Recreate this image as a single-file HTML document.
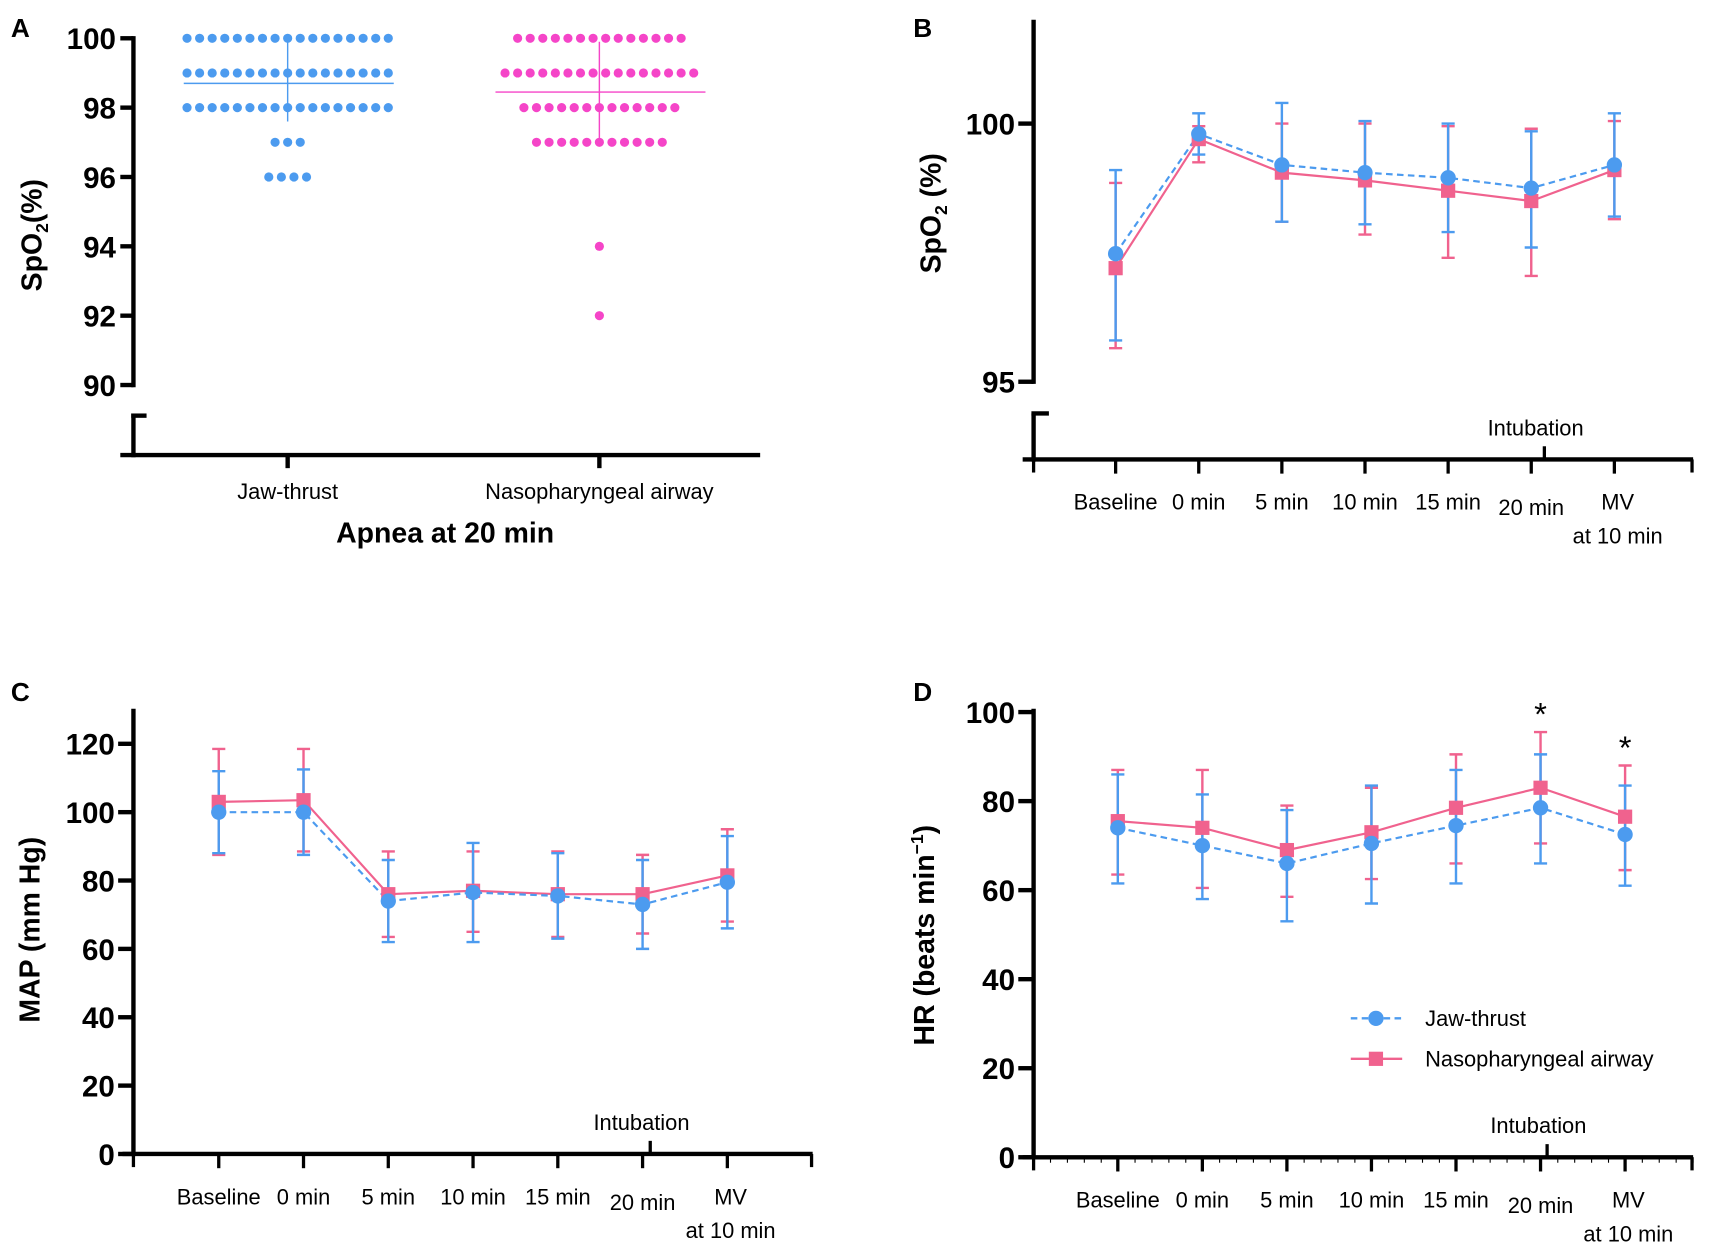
<!DOCTYPE html>
<html><head><meta charset="utf-8">
<style>
html,body{margin:0;padding:0;background:#fff;}
svg{display:block;}
text{font-family:"Liberation Sans Narrow","Liberation Sans",sans-serif;}
.num{font-weight:bold;font-size:27px;}
.cat{font-size:20px;}
.ttl{font-family:"Liberation Sans",sans-serif;font-weight:bold;font-size:26px;}
.pl{font-family:"Liberation Sans",sans-serif;font-weight:bold;font-size:24px;}
</style></head>
<body>
<svg id="fig" width="1715" height="1244" viewBox="0 0 1568 1137.3" preserveAspectRatio="none" xmlns="http://www.w3.org/2000/svg">
<text class="pl" x="10" y="34">A</text>
<text class="pl" x="835" y="34">B</text>
<text class="pl" x="10" y="641">C</text>
<text class="pl" x="835" y="641">D</text>
<g id="pa"></g>
<g id="pb"></g>
<g id="pc"></g>
<g id="pd"></g>
</svg>
<script>
// ---- Panel A data (dot plot) ----
const aGroups = ["Jaw-thrust", "Nasopharyngeal airway"];
const aValuesJaw = [100,100,100,100,100,100,100,100,100,100,100,100,100,100,100,100,100,
 99,99,99,99,99,99,99,99,99,99,99,99,99,99,99,99,99,
 98,98,98,98,98,98,98,98,98,98,98,98,98,98,98,98,98, 97,97,97, 96,96,96,96];
const aValuesNaso = [100,100,100,100,100,100,100,100,100,100,100,100,100,100,
 99,99,99,99,99,99,99,99,99,99,99,99,99,99,99,99,
 98,98,98,98,98,98,98,98,98,98,98,98,98, 97,97,97,97,97,97,97,97,97,97,97, 94, 92];
const aMean = [98.7, 98.45];
const aSDhi = [99.9, 99.9];
const aSDlo = [97.6, 97.05];
const aTicks = [90,92,94,96,98,100];

// ---- Line panels shared ----
const timeLabels = ["Baseline","0 min","5 min","10 min","15 min","20 min","MV"];

// Panel B SpO2
const bJaw = [97.48, 99.8, 99.2, 99.05, 98.95, 98.75, 99.2];
const bJawHi = [99.1, 100.2, 100.4, 100.05, 100.0, 99.85, 100.2];
const bJawLo = [95.8, 99.4, 98.1, 98.05, 97.9, 97.6, 98.2];
const bNaso = [97.2, 99.7, 99.05, 98.9, 98.7, 98.5, 99.1];
const bNasoHi = [98.85, 99.95, 100.0, 100.0, 99.95, 99.9, 100.05];
const bNasoLo = [95.65, 99.25, 98.1, 97.85, 97.4, 97.05, 98.15];
const bTicks = [95, 100];

// Panel C MAP
const cJaw = [100, 100, 74, 76.5, 75.5, 73, 79.5];
const cJawHi = [112, 112.5, 86, 91, 88, 86, 93];
const cJawLo = [88, 87.5, 62, 62, 63, 60, 66];
const cNaso = [103, 103.5, 76, 77, 76, 76, 81.5];
const cNasoHi = [118.5, 118.5, 88.5, 88.5, 88.5, 87.5, 95];
const cNasoLo = [87.5, 88.5, 63.5, 65, 63.5, 64.5, 68];
const cTicks = [0,20,40,60,80,100,120];

// Panel D HR
const dJaw = [74, 70, 66, 70.5, 74.5, 78.5, 72.5];
const dJawHi = [86, 81.5, 78, 83.5, 87, 90.5, 83.5];
const dJawLo = [61.5, 58, 53, 57, 61.5, 66, 61];
const dNaso = [75.5, 74, 69, 73, 78.5, 83, 76.5];
const dNasoHi = [87, 87, 79, 83, 90.5, 95.5, 88];
const dNasoLo = [63.5, 60.5, 58.5, 62.5, 66, 70.5, 64.5];
const dTicks = [0,20,40,60,80,100];
const dStars = [5, 6];

const NS = "http://www.w3.org/2000/svg";
const BLUE = "#4c9bef", PINK = "#f0628e", MAG = "#f545c8";
function mk(parent, tag, attrs, txt){
  const e = document.createElementNS(NS, tag);
  for (const k in attrs) e.setAttribute(k, attrs[k]);
  if (txt !== undefined) e.textContent = txt;
  parent.appendChild(e); return e;
}
function lin(d0,d1,r0,r1){ return v => r0 + (v-d0)/(d1-d0)*(r1-r0); }

// ---------- Panel A ----------
(function(){
  const g = document.getElementById('pa');
  const ax = 122, y = lin(90,100,352,35);
  const xc = [263, 548];
  let e = mk(g,'line',{x1:ax,y1:y(100)-2,x2:ax,y2:354,stroke:'#000','stroke-width':4});
   
  e = mk(g,'line',{x1:ax,y1:378,x2:ax,y2:418,stroke:'#000','stroke-width':4});
   
  mk(g,'line',{x1:ax-2,y1:380,x2:ax+12,y2:380,stroke:'#000','stroke-width':4});
  e = mk(g,'line',{x1:110,y1:416,x2:695,y2:416,stroke:'#000','stroke-width':4});
   
  aTicks.forEach(t=>{
    mk(g,'line',{x1:ax-12,y1:y(t),x2:ax,y2:y(t),stroke:'#000','stroke-width':4});
    const tx = mk(g,'text',{x:ax-16,y:y(t)+10,'text-anchor':'end',class:'num'},String(t));
     
  });
  aGroups.forEach((nm,i)=>{
    mk(g,'line',{x1:xc[i],y1:416,x2:xc[i],y2:428,stroke:'#000','stroke-width':4});
    const tx = mk(g,'text',{x:xc[i],y:456,'text-anchor':'middle',class:'cat'},nm);
     
  });
  const tt = mk(g,'text',{x:407,y:496,'text-anchor':'middle',class:'ttl'},'Apnea at 20 min');
   
  const yt = mk(g,'text',{transform:'translate(38,215) rotate(-90)','text-anchor':'middle',class:'ttl'});
   
  yt.innerHTML = 'SpO<tspan font-size="16" dy="6">2</tspan><tspan dy="-6">(%)</tspan>';
  [aValuesJaw, aValuesNaso].forEach((vals,gi)=>{
    const col = gi===0?BLUE:MAG;
    const counts = {};
    vals.forEach(v=>counts[v]=(counts[v]||0)+1);
    const idx = {};
    vals.forEach(v=>{
      const n = counts[v]; idx[v]=(idx[v]||0);
      const sp = 11.5;
      const cx = xc[gi] + (idx[v] - (n-1)/2)*sp;
      idx[v]++;
      const c = mk(g,'circle',{cx:cx,cy:y(v),r:4.2,fill:col});
       
    });
    const m = mk(g,'line',{x1:xc[gi]-95,y1:y(aMean[gi]),x2:xc[gi]+97,y2:y(aMean[gi]),stroke:col,'stroke-width':1.3});
     
    const s = mk(g,'line',{x1:xc[gi],y1:y(aSDhi[gi]),x2:xc[gi],y2:y(aSDlo[gi]),stroke:col,'stroke-width':1.3});
     
  });
})();

// ---------- Line panels ----------
function linePanel(cfg){
  const g = document.getElementById(cfg.id);
  const ax = cfg.ax, y = lin(cfg.d0,cfg.d1,cfg.r0,cfg.r1);
  const xs = i => cfg.x0 + i*cfg.dx;
  let e = mk(g,'line',{x1:ax,y1:cfg.top,x2:ax,y2:cfg.axisBottom,stroke:'#000','stroke-width':4});
   
  if (cfg.brk){
    mk(g,'line',{x1:ax,y1:cfg.brk,x2:ax,y2:cfg.xaxY+2,stroke:'#000','stroke-width':4});
    mk(g,'line',{x1:ax-2,y1:cfg.brk,x2:ax+14,y2:cfg.brk,stroke:'#000','stroke-width':4});
  }
  e = mk(g,'line',{x1:ax-10,y1:cfg.xaxY,x2:cfg.xEnd,y2:cfg.xaxY,stroke:'#000','stroke-width':4});
   
  mk(g,'line',{x1:ax,y1:cfg.xaxY,x2:ax,y2:cfg.xaxY+12,stroke:'#000','stroke-width':3});
  mk(g,'line',{x1:cfg.xEnd-1,y1:cfg.xaxY,x2:cfg.xEnd-1,y2:cfg.xaxY+12,stroke:'#000','stroke-width':3});
  if (cfg.minor){
    for (let xx=ax; xx<cfg.xEnd; xx+=cfg.dx/5) mk(g,'line',{x1:xx,y1:cfg.xaxY,x2:xx,y2:cfg.xaxY+5,stroke:'#000','stroke-width':1});
  }
  cfg.ticks.forEach(t=>{
    mk(g,'line',{x1:ax-14,y1:y(t),x2:ax,y2:y(t),stroke:'#000','stroke-width':4});
    const tx = mk(g,'text',{x:ax-17,y:y(t)+10,'text-anchor':'end',class:'num'},String(t));
     
  });
  timeLabels.forEach((lb,i)=>{
    mk(g,'line',{x1:xs(i),y1:cfg.xaxY,x2:xs(i),y2:cfg.xaxY+13,stroke:'#000','stroke-width':3});
    const ly = cfg.xaxY + (i===5?51:46);
    const tx = mk(g,'text',{x:xs(i)+(i===6?3:0),y:ly,'text-anchor':'middle',class:'cat'},lb);
     
  });
  const at = mk(g,'text',{x:xs(6)+3,y:cfg.xaxY+77,'text-anchor':'middle',class:'cat'},'at 10 min');
   
  const ix = xs(5)+cfg.intOff;
  mk(g,'line',{x1:ix,y1:cfg.xaxY-12,x2:ix,y2:cfg.xaxY,stroke:'#000','stroke-width':3});
  const it = mk(g,'text',{x:ix-8,y:cfg.xaxY-22,'text-anchor':'middle',class:'cat'},'Intubation');
   
  const yt = mk(g,'text',{transform:`translate(${cfg.ytX},${cfg.ytY}) rotate(-90)`,'text-anchor':'middle',class:'ttl'});
   
  yt.innerHTML = cfg.ytitle;
  const series = [
    {v:cfg.naso,hi:cfg.nasoHi,lo:cfg.nasoLo,col:PINK,nm:'naso'},
    {v:cfg.jaw,hi:cfg.jawHi,lo:cfg.jawLo,col:BLUE,nm:'jaw'}];
  series.forEach(s=>{
    s.v.forEach((v,i)=>{
      const x = xs(i);
      const b = mk(g,'path',{d:`M${x},${y(s.hi[i])}V${y(s.lo[i])}M${x-6},${y(s.hi[i])}H${x+6}M${x-6},${y(s.lo[i])}H${x+6}`,stroke:s.col,'stroke-width':2.2,fill:'none'});
       
    });
  });
  series.forEach(s=>{
    const d = s.v.map((v,i)=>(i?'L':'M')+xs(i)+','+y(v)).join('');
    const l = mk(g,'path',{d:d,stroke:s.col,'stroke-width':2,fill:'none','stroke-dasharray':s.nm==='jaw'?'6,4':'none'});
     
  });
  series.forEach(s=>{
    s.v.forEach((v,i)=>{
      let m;
      if (s.nm==='naso') m = mk(g,'rect',{x:xs(i)-6.5,y:y(v)-6.5,width:13,height:13,fill:s.col});
      else m = mk(g,'circle',{cx:xs(i),cy:y(v),r:7,fill:s.col});
       
    });
  });
  if (cfg.stars){
    cfg.stars.forEach(i=>{
      const st = mk(g,'text',{x:xs(i),y:y(cfg.nasoHi[i])-6,'text-anchor':'middle','font-size':30,'font-family':'Liberation Sans, sans-serif'},'*');
       
    });
  }
  if (cfg.legend){
    const L = mk(g,'g',{});
     
    mk(L,'line',{x1:1235,y1:931,x2:1282,y2:931,stroke:BLUE,'stroke-width':2.2,'stroke-dasharray':'6,4'});
    mk(L,'circle',{cx:1258,cy:931,r:7,fill:BLUE});
    let t1 = mk(L,'text',{x:1303,y:938,class:'cat'},'Jaw-thrust');
     
    mk(L,'line',{x1:1235,y1:968,x2:1282,y2:968,stroke:PINK,'stroke-width':2.2});
    mk(L,'rect',{x:1251.5,y:961.5,width:13,height:13,fill:PINK});
    let t2 = mk(L,'text',{x:1303,y:975,class:'cat'},'Nasopharyngeal airway');
     
  }
}

linePanel({id:'pb',p:'b',ax:945,top:18,axisBottom:351,brk:378,xaxY:420,xEnd:1548,x0:1020,dx:76,
  d0:95,d1:100,r0:349,r1:113,ticks:bTicks,intOff:12,
  jaw:bJaw,jawHi:bJawHi,jawLo:bJawLo,naso:bNaso,nasoHi:bNasoHi,nasoLo:bNasoLo,
  ytX:860,ytY:195,ytitle:'SpO<tspan font-size="16" dy="6">2</tspan><tspan dy="-6"> (%)</tspan>'});
linePanel({id:'pc',p:'c',ax:122,top:648,axisBottom:1057,xaxY:1055,xEnd:743,x0:200,dx:77.5,
  d0:0,d1:120,r0:1055,r1:680,ticks:cTicks,intOff:7,
  jaw:cJaw,jawHi:cJawHi,jawLo:cJawLo,naso:cNaso,nasoHi:cNasoHi,nasoLo:cNasoLo,
  ytX:36,ytY:850,ytitle:'MAP (mm Hg)'});
linePanel({id:'pd',p:'d',ax:945,top:648,axisBottom:1060,xaxY:1058,xEnd:1548,x0:1022,dx:77.3,minor:true,
  d0:0,d1:100,r0:1058,r1:651,ticks:dTicks,intOff:6,stars:dStars,legend:true,
  jaw:dJaw,jawHi:dJawHi,jawLo:dJawLo,naso:dNaso,nasoHi:dNasoHi,nasoLo:dNasoLo,
  ytX:854,ytY:855,ytitle:'HR (beats min<tspan font-size="16" dy="-10">−1</tspan><tspan dy="10">)</tspan>'});
</script>
</body></html>
